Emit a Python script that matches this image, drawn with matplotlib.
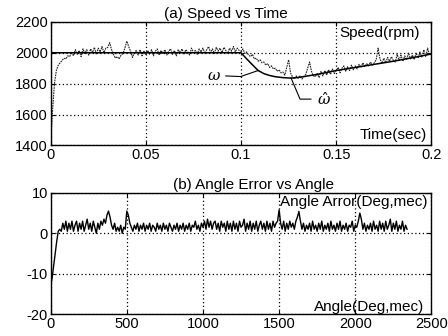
import matplotlib
matplotlib.use("Agg")
import matplotlib.pyplot as plt
import numpy as np

plt.rcParams['font.family'] = ['Liberation Sans', 'DejaVu Sans']
plt.rcParams['mathtext.fontset'] = 'dejavuserif'
plt.rcParams['axes.unicode_minus'] = False

# ---- (a) speed vs time ----
# measured (noisy) speed, one sample every 1 ms from 0 to 0.2 s
speed_dt = 0.001
speed_noisy = [
    1420, 1620, 1800, 1885, 1920, 1935, 1950, 1965, 1960, 1980,
    1975, 2005, 1980, 2020, 1990, 2015, 1975, 2025, 1995, 2020,
    1985, 2025, 2000, 2035, 1990, 2030, 2005, 2040, 2000, 2030,
    2035, 2065, 2020, 1990, 1965, 1975, 1960, 1985, 1995, 2030,
    2075, 2040, 2010, 1970, 2000, 2015, 1985, 2020, 1980, 2010,
    1985, 2015, 1990, 2020, 1980, 2010, 2025, 1985, 2015, 1995,
    2020, 1985, 2010, 2025, 1990, 2015, 1980, 2020, 2000, 2025,
    1990, 2020, 2005, 1985, 2030, 2000, 2015, 1990, 2025, 2005,
    2030, 1995, 2020, 2040, 2000, 2025, 1995, 2035, 2010, 2030,
    2000, 2035, 2015, 1995, 2030, 2010, 2040, 2005, 2030, 2015,
    2010, 2025, 1995, 2005, 1985, 1975, 1990, 1960, 1965, 1945,
    1955, 1935, 1940, 1920, 1930, 1905, 1915, 1895, 1900, 1880,
    1890, 1870, 1875, 1855, 1905, 1955, 1870, 1845, 1830, 1850,
    1835, 1850, 1830, 1845, 1860, 1900, 1940, 1880, 1850, 1845,
    1865, 1840, 1880, 1850, 1885, 1855, 1890, 1860, 1895, 1865,
    1885, 1905, 1870, 1900, 1915, 1880, 1910, 1885, 1920, 1890,
    1915, 1895, 1925, 1905, 1935, 1910, 1930, 1915, 1940, 1920,
    1935, 1955, 2030, 1960, 1930, 1965, 1935, 1970, 1945, 1975,
    1950, 1940, 1990, 1950, 1985, 1945, 1980, 1955, 2000, 1960,
    1985, 1955, 2000, 1965, 2005, 1970, 2020, 1975, 2030, 1985,
    1995,
]
# estimated (smooth) speed
smooth_t = [0, 0.1, 0.103, 0.106, 0.109, 0.112, 0.115, 0.118, 0.122, 0.126,
            0.13, 0.14, 0.15, 0.16, 0.17, 0.18, 0.19, 0.2]
smooth_w = [2000, 2000, 1960, 1922, 1885, 1865, 1853, 1845, 1839, 1836,
            1840, 1860, 1885, 1905, 1925, 1945, 1968, 1992]

# ---- (b) angle error vs angle ----
angle_step = 10
angle_err = [
    -13, -11, -8, -5, -2, 0.5, 1.0, 0.5, 2.5, 1.0,
    3.0, 0.5, 2.5, 1.0, 3.0, 0.5, 2.0, 3.0, 0.5, 2.5,
    1.0, 3.0, 0.5, 2.0, 3.5, 1.0, 2.5, 0.5, 3.0, 1.5,
    0.0, 2.5, 1.0, 3.0, 2.0, 3.5, 2.5, 4.5, 5.5, 4.0,
    2.0, 1.0, 2.5, 0.5, 1.5, 0.5, 2.0, 0.0, 1.5, 1.0,
    5.5, 4.5, 2.5, 1.5, 0.5, 2.0, 1.0, 2.5, 0.5, 2.0,
    1.0, 2.5, 0.5, 2.0, 1.0, 2.5, 0.5, 2.0, 1.5, 0.5,
    2.5, 1.0, 2.0, 0.5, 2.5, 1.0, 2.0, 0.5, 2.5, 1.5,
    0.5, 2.0, 1.0, 2.5, 0.5, 2.0, 1.0, 2.5, 0.5, 2.0,
    1.0, 2.5, 0.5, 2.0, 1.5, 3.0, 1.0, 2.0, 0.5, 2.5,
    1.5, 3.0, 1.0, 3.5, 1.5, 3.0, 1.0, 2.5, 3.0, 1.0,
    2.5, 0.5, 3.0, 1.5, 2.5, 0.5, 3.0, 1.0, 2.5, 0.5,
    3.0, 1.0, 2.5, 0.5, 3.0, 1.5, 2.0, 3.5, 0.5, 2.5,
    1.0, 3.0, 0.5, 2.5, 1.0, 3.0, 0.5, 2.0, 3.0, 1.0,
    2.5, 0.5, 3.0, 1.0, 2.5, 0.5, 3.0, 1.5, 2.5, 3.0,
    5.8, 2.5, 1.0, 3.0, 0.5, 2.5, 1.0, 3.0, 1.5, 2.5,
    1.0, 3.0, 4.0, 5.4, 3.0, 1.0, 2.5, 0.5, 2.0, 1.0,
    2.5, 0.5, 3.0, 1.0, 2.0, 0.5, 2.5, 1.0, 3.0, 0.5,
    2.0, 1.0, 2.5, 0.5, 3.0, 1.0, 2.0, 0.5, 2.5, 1.0,
    3.0, 0.5, 2.0, 1.0, 2.5, 0.5, 2.0, 1.5, 3.0, 0.5,
    2.0, 1.5, 3.0, 5.0, 3.5, 1.0, 2.5, 0.5, 2.0, 1.0,
    2.5, 0.5, 3.0, 1.0, 2.0, 0.5, 3.0, 1.0, 2.5, 0.5,
    3.0, 1.0, 2.0, 3.5, 0.5, 2.5, 1.0, 3.0, 0.5, 2.0,
    1.0, 3.0, 0.5, 2.0, 1.0,
]

speed_t = np.arange(len(speed_noisy)) * speed_dt
angle_deg = np.arange(len(angle_err)) * angle_step

fig = plt.figure(figsize=(4.48, 3.36), dpi=100)
ax1 = fig.add_axes([0.113, 0.567, 0.850, 0.368])
ax2 = fig.add_axes([0.113, 0.065, 0.850, 0.361])

fs = 11
tfs = 10.5

# top plot
ax1.plot(speed_t, speed_noisy, color='#222222', lw=0.8, ls=(0, (1.5, 0.8)))
ax1.plot(smooth_t, smooth_w, color='black', lw=1.1)
ax1.set_xlim(0, 0.2)
ax1.set_ylim(1400, 2200)
ax1.set_xticks([0, 0.05, 0.1, 0.15, 0.2])
ax1.set_xticklabels(['0', '0.05', '0.1', '0.15', '0.2'])
ax1.set_yticks([1400, 1600, 1800, 2000, 2200])
ax1.text(0.461, 1.005, '(a) Speed vs Time', transform=ax1.transAxes,
         ha='center', va='bottom', fontsize=fs)
ax1.text(0.759, 0.91, 'Speed(rpm)', transform=ax1.transAxes,
         ha='left', va='center', fontsize=fs)
ax1.text(0.987, 0.086, 'Time(sec)', transform=ax1.transAxes,
         ha='right', va='center', fontsize=fs)
# label leaders
ax1.plot([0.092, 0.0998, 0.109], [1850, 1846, 1885], color='black', lw=0.8)
ax1.text(0.0859, 1852, r'$\omega$', ha='center', va='center', fontsize=fs)
ax1.plot([0.1263, 0.131, 0.1367], [1836, 1700, 1700], color='black', lw=0.8)
ax1.text(0.1435, 1700, r'$\hat{\omega}$', ha='center', va='center', fontsize=fs)

# bottom plot
ax2.plot(angle_deg, angle_err, color='black', lw=1.0)
ax2.set_xlim(0, 2500)
ax2.set_ylim(-20, 10)
ax2.set_xticks([0, 500, 1000, 1500, 2000, 2500])
ax2.set_yticks([-20, -10, 0, 10])
ax2.text(0.534, 1.005, '(b) Angle Error vs Angle', transform=ax2.transAxes,
         ha='center', va='bottom', fontsize=fs)
ax2.text(0.602, 0.928, 'Angle Arror(Deg,mec)', transform=ax2.transAxes,
         ha='left', va='center', fontsize=fs)
ax2.text(0.981, 0.06, 'Angle(Deg,mec)', transform=ax2.transAxes,
         ha='right', va='center', fontsize=fs)

for ax in (ax1, ax2):
    ax.grid(True, color='black', ls=(0, (1, 2)), lw=0.9)
    ax.tick_params(direction='in', length=3, labelsize=tfs, pad=2,
                   top=True, right=True)
    for s in ax.spines.values():
        s.set_linewidth(1.0)

fig.savefig('out.png', dpi=100)
